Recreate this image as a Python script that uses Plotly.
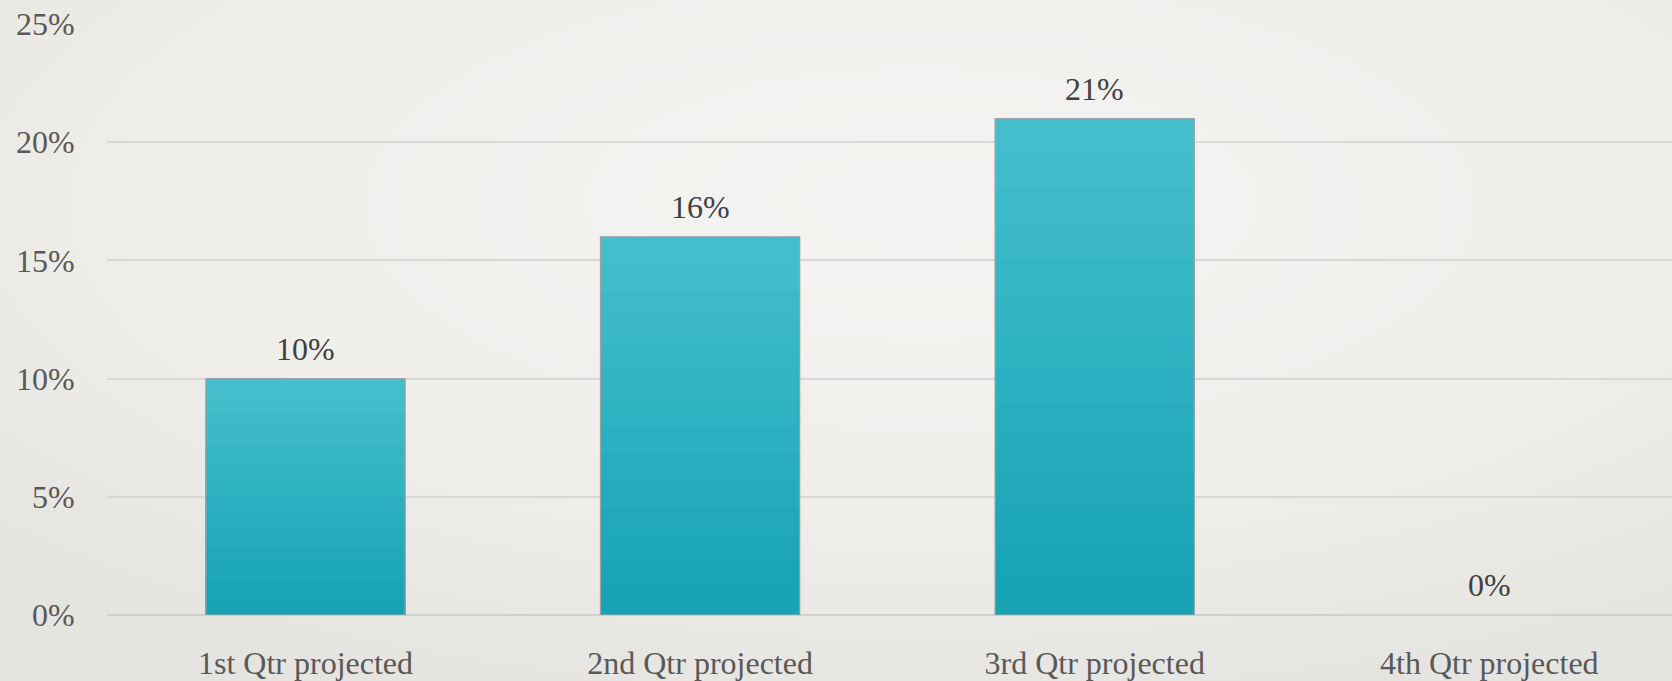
import base64
import plotly.graph_objects as go

# Quarterly projections
categories = ["1st Qtr projected", "2nd Qtr projected", "3rd Qtr projected", "4th Qtr projected"]
values = [0.10, 0.16, 0.21, 0.00]
y_ticks = [0, 0.05, 0.10, 0.15, 0.20, 0.25]
y_tick_labels = ["0%", "5%", "10%", "15%", "20%", "25%"]

FONT = "Liberation Serif"
W, H = 1672, 681
M_L, M_R, M_T, M_B = 107, 0, 24, 66

# Soft radial background
svg = f"""<svg xmlns='http://www.w3.org/2000/svg' width='{W}' height='{H}'>
<defs><radialGradient id='g' cx='55%' cy='30%' r='75%'>
<stop offset='0' stop-color='#f5f4f2'/><stop offset='0.6' stop-color='#efeeeb'/>
<stop offset='1' stop-color='#e6e4e0'/></radialGradient></defs>
<rect width='100%' height='100%' fill='url(#g)'/></svg>"""
bg_uri = "data:image/svg+xml;base64," + base64.b64encode(svg.encode()).decode()

fig = go.Figure()

# Vertical shading of each bar: lighter at the top, darker at the base
top_rgb = (0x44, 0xbe, 0xcd)
base_rgb = (0x17, 0xa3, 0xb4)
steps = 14
for k in range(steps):
    frac = 1 - k / steps
    t = k / (steps - 1)
    rgb = tuple(round(a + (b - a) * t) for a, b in zip(top_rgb, base_rgb))
    fig.add_trace(go.Bar(
        x=categories,
        y=[v * frac for v in values],
        marker=dict(color="rgb(%d,%d,%d)" % rgb, line=dict(width=0)),
        hoverinfo="skip",
        showlegend=False,
    ))

# Outline bar carrying the values
fig.add_trace(go.Bar(
    x=categories,
    y=values,
    marker=dict(color="rgba(0,0,0,0)",
                line=dict(color="#9aa3a5", width=[1.2 if v > 0 else 0 for v in values])),
    hovertemplate="%{x}: %{y:.0%}<extra></extra>",
    showlegend=False,
))

annotations = [
    dict(x=c, y=v, text=f"{round(v * 100)}%", xref="x", yref="y",
         showarrow=False, yanchor="bottom", yshift=10,
         font=dict(family=FONT, size=32, color="#404040"))
    for c, v in zip(categories, values)
]

fig.update_layout(
    width=W, height=H,
    margin=dict(l=M_L, r=M_R, t=M_T, b=M_B, pad=0),
    paper_bgcolor="#eeede9",
    plot_bgcolor="rgba(0,0,0,0)",
    barmode="overlay",
    bargap=0.495,
    annotations=annotations,
    images=[dict(source=bg_uri, xref="paper", yref="paper",
                 x=-M_L / (W - M_L - M_R), y=1 + M_T / (H - M_T - M_B),
                 sizex=W / (W - M_L - M_R), sizey=H / (H - M_T - M_B),
                 xanchor="left", yanchor="top", sizing="stretch", layer="below")],
    xaxis=dict(
        range=[-0.503, 3.463],
        showgrid=False, zeroline=False, showline=False,
        ticks="outside", ticklen=20, tickcolor="rgba(0,0,0,0)",
        tickfont=dict(family=FONT, size=32, color="#595959"),
    ),
    yaxis=dict(
        range=[0, 0.25],
        tickvals=y_ticks, ticktext=y_tick_labels,
        showgrid=True, gridcolor="#d8d8d6", gridwidth=1.5,
        zeroline=True, zerolinecolor="#cfcfcd", zerolinewidth=1.5,
        showline=False,
        ticks="outside", ticklen=25, tickcolor="rgba(0,0,0,0)",
        tickfont=dict(family=FONT, size=32, color="#595959"),
    ),
)

fig.write_html("out.html")
